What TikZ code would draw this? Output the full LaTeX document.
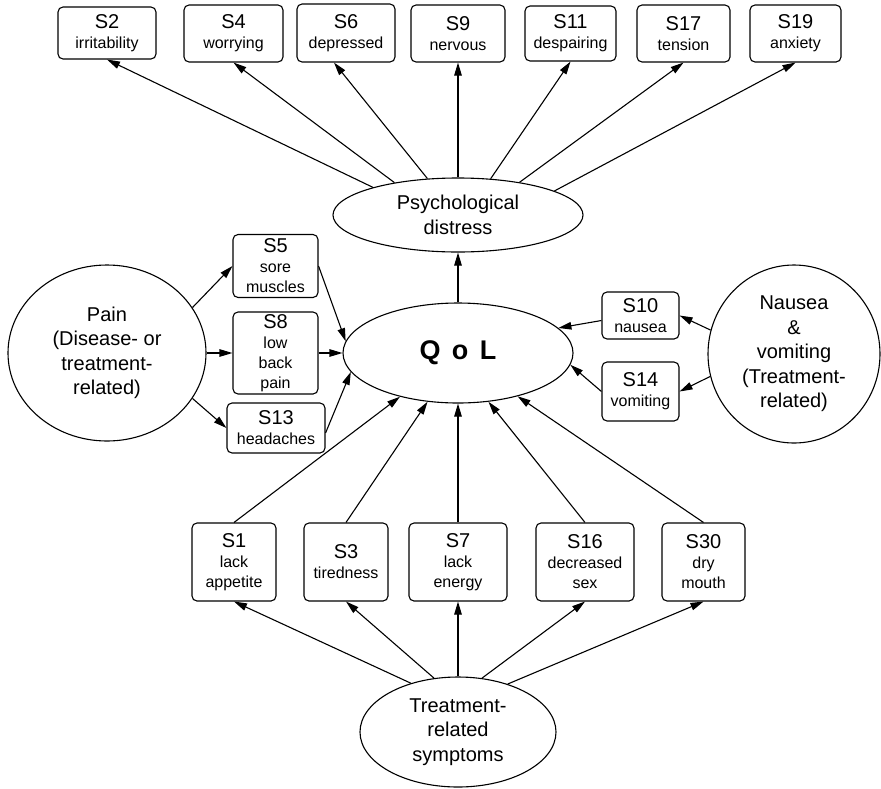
\documentclass[tikz,border=0pt]{standalone}
\usepackage{fontspec}
\setmainfont{Liberation Sans}
\usetikzlibrary{shapes.geometric,arrows.meta}

% two-line item label: code on top, description below
\newcommand\itemlab[2]{{\fontsize{20}{20}\selectfont #1}\\#2}

\begin{document}
\begin{tikzpicture}[x=1pt,y=-1pt,
  line width=1.1pt,
  itembox/.style={draw, rounded corners=5pt, inner sep=0pt, align=center,
    font=\fontsize{16}{20}\selectfont},
  latent/.style={draw, ellipse, inner sep=0pt, align=center,
    font=\fontsize{20}{24.5}\selectfont},
  arr/.style={-{Triangle[length=13pt,width=7.5pt]}}
]
\useasboundingbox (0,0) rectangle (881,788);

% psychological distress items
\node[itembox, minimum width=98pt, minimum height=52pt] (s2)  at (107,33)   {\itemlab{S2}{irritability}};
\node[itembox, minimum width=99pt, minimum height=57pt] (s4)  at (233.5,33.5) {\itemlab{S4}{worrying}};
\node[itembox, minimum width=98pt, minimum height=58pt] (s6)  at (346,33)   {\itemlab{S6}{depressed}};
\node[itembox, minimum width=94pt, minimum height=57pt] (s9)  at (458,33.5) {\itemlab{S9}{nervous}};
\node[itembox, minimum width=91pt, minimum height=55pt] (s11) at (570.5,33.5) {\itemlab{S11}{despairing}};
\node[itembox, minimum width=93pt, minimum height=57pt] (s17) at (683.5,33.5) {\itemlab{S17}{tension}};
\node[itembox, minimum width=91pt, minimum height=57pt] (s19) at (795.5,33.5) {\itemlab{S19}{anxiety}};

% latent variables
\node[latent, minimum width=250pt, minimum height=74pt] (psy) at (458,215) {Psychological\\distress};
\node[latent, minimum width=230pt, minimum height=100pt,
      font=\fontsize{27}{30}\selectfont\bfseries] (qol) at (458,353) {Q\hspace{0.42em}o\hspace{0.42em}L};
\node[latent, minimum width=198pt, minimum height=176pt] (pain) at (107,353) {Pain\\(Disease- or\\treatment-\\related)};
\node[latent, minimum width=172pt, minimum height=178pt] (nau) at (794,354) {Nausea\\\&\\vomiting\\(Treatment-\\related)};
\node[latent, minimum width=196pt, minimum height=110pt] (tr) at (458,732) {Treatment-\\related\\symptoms};

% pain items
\node[itembox, minimum width=85pt, minimum height=63pt] (s5)  at (275.5,266) {\itemlab{S5}{sore\\muscles}};
\node[itembox, minimum width=85pt, minimum height=82pt] (s8)  at (275.5,353) {\itemlab{S8}{low\\back\\pain}};
\node[itembox, minimum width=98pt, minimum height=50pt] (s13) at (276,428)   {\itemlab{S13}{headaches}};

% nausea items
\node[itembox, minimum width=77pt, minimum height=47pt] (s10) at (640.5,315.5) {\itemlab{S10}{nausea}};
\node[itembox, minimum width=77pt, minimum height=59pt] (s14) at (640.5,391.5) {\itemlab{S14}{vomiting}};

% treatment-related items
\node[itembox, minimum width=84pt, minimum height=78pt] (s1)  at (234,562)   {\itemlab{S1}{lack\\appetite}};
\node[itembox, minimum width=84pt, minimum height=78pt] (s3)  at (346,562)   {\itemlab{S3}{tiredness}};
\node[itembox, minimum width=98pt, minimum height=78pt] (s7)  at (458,562)   {\itemlab{S7}{lack\\energy}};
\node[itembox, minimum width=98pt, minimum height=78pt] (s16) at (585,562)   {\itemlab{S16}{decreased\\sex}};
\node[itembox, minimum width=83pt, minimum height=78pt] (s30) at (703.5,562) {\itemlab{S30}{dry\\mouth}};

% psychological distress -> items
\draw[arr] (psy.162) -- (s2.south);
\draw[arr] (psy.153) -- (s4.south);
\draw[arr] (psy.130) -- ([xshift=-12pt]s6.south);
\draw[arr] (psy.north) -- (s9.south);
\draw[arr] (psy.48) -- (s11.south);
\draw[arr] (psy.28) -- (s17.south);
\draw[arr] (psy.14) -- (s19.south);

% QoL -> psychological distress
\draw[arr] (qol.north) -- (psy.south);

% pain
\draw[arr] (pain.28) -- (s5.west);
\draw[arr] (pain.east) -- (s8.west);
\draw[arr] (pain.-28) -- (s13.west);
\draw[arr] (s5.east) -- (qol.174);
\draw[arr] (s8.east) -- (qol.west);
\draw[arr] ([yshift=-5pt]s13.east) -- (qol.-170);

% nausea & vomiting
\draw[arr] (nau.164) -- (s10.east);
\draw[arr] (nau.195) -- (s14.east);
\draw[arr] ([yshift=-5pt]s10.west) -- (qol.14);
\draw[arr] (s14.west) -- (qol.-6);

% treatment-related symptoms
\draw[arr] (s1.north) -- (qol.217);
\draw[arr] (s3.north) -- (qol.238);
\draw[arr] (s7.north) -- (qol.south);
\draw[arr] (s16.north) -- (qol.302);
\draw[arr] (s30.north) -- (qol.324);
\draw[arr] (tr.134) -- (s1.south);
\draw[arr] (tr.114) -- (s3.south);
\draw[arr] (tr.north) -- (s7.south);
\draw[arr] (tr.66) -- (s16.south);
\draw[arr] (tr.44) -- (s30.south);
\end{tikzpicture}
\end{document}
